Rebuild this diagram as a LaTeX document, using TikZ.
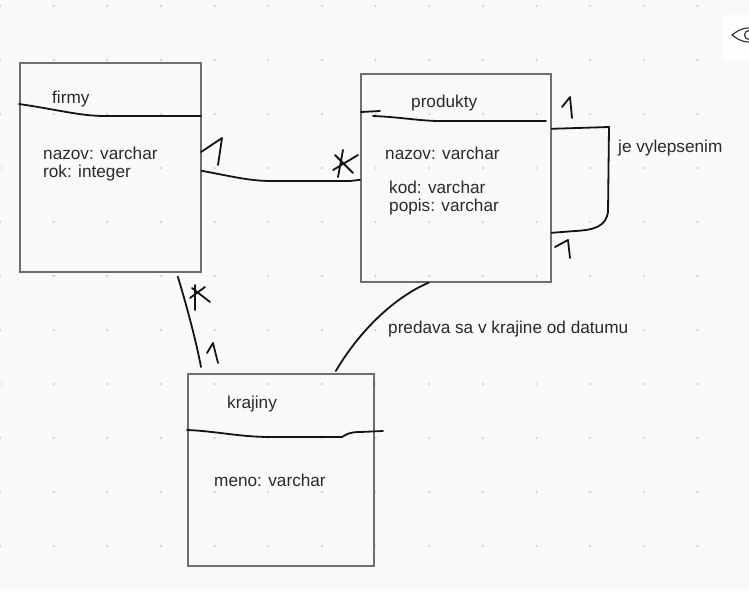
\documentclass[tikz,border=0pt]{standalone}
\usepackage{fontspec}
\setmainfont{Liberation Sans}
\usetikzlibrary{positioning}
\definecolor{Paper}{HTML}{F9F9F9}
\definecolor{Panel}{HTML}{FDFDFD}
\definecolor{Frame}{HTML}{6E6E6E}
\definecolor{Ink}{HTML}{141414}
\definecolor{Dot}{HTML}{D4D4D4}
\definecolor{Label}{HTML}{2A2A2A}

\begin{document}
\begin{tikzpicture}[x=1pt,y=-1pt,
  entity/.style={draw=Frame,line width=1.6pt,anchor=north west,inner sep=0pt},
  field/.style={anchor=base west,inner sep=0pt,text=Label,
    font=\fontsize{17.2}{18}\selectfont},
  sketch/.style={draw=Ink,line width=1.8pt,line cap=round,line join=round}]
\fill[Paper](0,0)rectangle(749,590);
\useasboundingbox(0,0)rectangle(749,590);
% dotted canvas
\foreach \i in {0,...,13}
  \foreach \j in {0,...,10}
    \fill[Dot](53.65*\i,6+54*\j)circle(1.4pt);
\fill[Panel,rounded corners=3pt](722,14)rectangle(760,62);
\draw[Ink!85,line width=1.2pt](749,28)..controls(741,28)and(736,32)..(732,35)
  ..controls(736,38)and(741,42)..(749,42);
\draw[Ink!85,line width=1.2pt](749,39.5)arc[start angle=90,end angle=270,radius=4.5];
% entities
\node[entity,minimum width=181pt,minimum height=209pt](firmy)at(19,62){};
\node[entity,minimum width=190pt,minimum height=208pt](produkty)at(360,73){};
\node[entity,minimum width=186pt,minimum height=192pt](krajiny)at(187,373){};
\node[field](firmyname)at(52,103){firmy};
\node[field](firmynazov)at(43,159){nazov: varchar};
\node[field](firmyrok)at(43,177){rok: integer};
\node[field](produktyname)at(411,107){produkty};
\node[field](produktynazov)at(385,159){nazov: varchar};
\node[field](produktykod)at(389,193){kod: varchar};
\node[field](produktypopis)at(389,211){popis: varchar};
\node[field](krajinyname)at(227,408){krajiny};
\node[field](krajinymeno)at(214,486){meno: varchar};
\node[field](vylepsenie)at(618,152){je vylepsenim};
\node[field](predava)at(388,333){predava sa v krajine od datumu};
% header strokes
\draw[sketch](19,104)..controls(60,110)and(80,116)..(105,116)--(201,116);
\draw[sketch](361,112)--(380,111);
\draw[sketch](373,116)..controls(400,117)and(420,121)..(440,121)--(546,121);
\draw[sketch](187,430)..controls(215,431)and(240,437)..(270,437)--(342,437)
  ..controls(347,434)and(350,432)..(360,432)--(383,431);
% relations
\draw[sketch]([yshift=-3.5pt]firmy.east)..controls(235,177)and(250,181)..(272,181)
  --(350,181)--([yshift=-2pt]produkty.west);
\draw[sketch]([yshift=49pt]produkty.east)--(609,127)--(608,212)
  ..controls(606,226)and(595,230)..(575,231)--([yshift=-55pt]produkty.east);
\draw[sketch]([xshift=-27pt]produkty.south)..controls(395,297)and(360,330)
  ..([xshift=55pt,yshift=2pt]krajiny.north);
\draw[sketch]([xshift=67.5pt,yshift=-4pt]firmy.south)..controls(185,300)and(196,340)
  ..([xshift=14pt,yshift=6pt]krajiny.north west);
% multiplicities
\draw[sketch](201,152)--(222,138)--(218,165);
\draw[sketch](343,150)--(338,177) (335,155)--(353,173) (333,170)--(358,155);
\draw[sketch](562,107)--(570,97)--(572,118);
\draw[sketch](555,247)--(568,240)--(570,258);
\draw[sketch](195,285)--(195,310) (192,288)--(210,302) (190,298)--(205,287);
\draw[sketch](207,353)--(213,343)--(218,363);
\end{tikzpicture}
\end{document}
